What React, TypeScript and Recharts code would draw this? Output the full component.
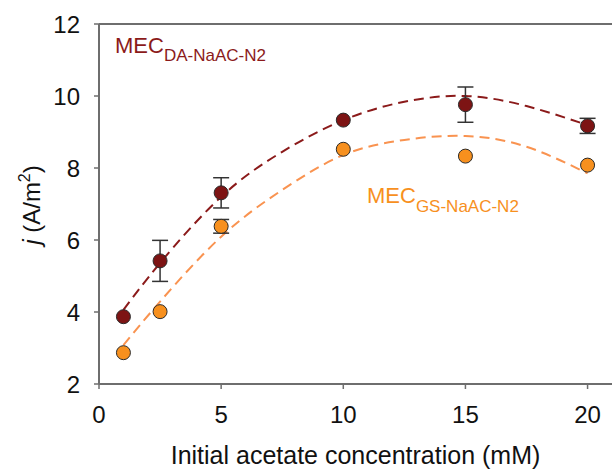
import {
  ComposedChart,
  Customized,
  ErrorBar,
  Line,
  ReferenceLine,
  Scatter,
  XAxis,
  YAxis,
} from "recharts";

// measured points (0 = error bar hidden behind the marker)
const concentrations = [1, 2.5, 5, 10, 15, 20];
const daMeans = [3.87, 5.42, 7.31, 9.33, 9.76, 9.17];
const daErrors = [0, 0.57, 0.42, 0, 0.49, 0.21];
const gsMeans = [2.87, 4.01, 6.38, 8.52, 8.33, 8.08];
const gsErrors = [0, 0, 0.19, 0, 0, 0];

// dashed fit curves
const fitX = [1, 2.5, 5, 7.5, 10, 12.5, 15, 17.5, 20];
const fitDA = [4.06, 5.36, 7.2, 8.45, 9.33, 9.84, 10.0, 9.72, 9.19];
const fitGS = [3.08, 4.29, 6.09, 7.39, 8.36, 8.78, 8.89, 8.59, 7.85];

const xTicks = [0, 5, 10, 15, 20];
const yTicks = [2, 4, 6, 8, 10, 12];

const DARK = "#7d1414";
const DARK_LINE = "#8b1a1a";
const ORANGE = "#f7901e";
const ORANGE_LINE = "#f99350";
const AXIS = "#6e6e6e";
const FONT = "'Liberation Sans', Arial, sans-serif";

const fitRows = fitX.map((x, i) => ({ x, da: fitDA[i], gs: fitGS[i] }));
const daRows = concentrations.map((x, i) => ({ x, y: daMeans[i], err: daErrors[i] }));
const gsRows = concentrations.map((x, i) => ({ x, y: gsMeans[i], err: gsErrors[i] }));

const dot = (fill: string) => (props: any) => (
  <circle cx={props.cx} cy={props.cy} r={7} fill={fill} stroke="#2a2a2a" strokeWidth={1} />
);
const noDot = () => <g />;

function Annotations() {
  return (
    <g fontFamily={FONT}>
      <text x={115} y={53} fill={DARK_LINE} fontSize={22}>
        MEC
        <tspan fontSize={17} dy={8}>DA-NaAC-N2</tspan>
      </text>
      <text x={367} y={203} fill={ORANGE} fontSize={22}>
        MEC
        <tspan fontSize={17} dy={9}>GS-NaAC-N2</tspan>
      </text>
      <text
        x={0}
        y={0}
        transform="translate(40, 205) rotate(-90)"
        textAnchor="middle"
        fill="#111"
        fontSize={24}
      >
        <tspan fontStyle="italic">j</tspan> (A/m
        <tspan fontSize={16} dy={-10}>2</tspan>
        <tspan dy={10}>)</tspan>
      </text>
    </g>
  );
}

export default function App() {
  return (
    <div style={{ position: "absolute", left: 0, top: 0, background: "#fff" }}>
      <ComposedChart
        width={612}
        height={469}
        data={fitRows}
        margin={{ top: 24, right: 0, left: 0, bottom: 0 }}
      >
        <XAxis
          type="number"
          dataKey="x"
          domain={[0, 21]}
          ticks={xTicks}
          allowDataOverflow
          height={85}
          tickSize={5}
          tickMargin={17}
          tick={{ fill: "#111", fontSize: 24, fontFamily: FONT }}
          axisLine={{ stroke: AXIS, strokeWidth: 2 }}
          tickLine={{ stroke: AXIS, strokeWidth: 1.5 }}
          label={{
            value: "Initial acetate concentration (mM)",
            position: "insideBottom",
            offset: 5,
            fill: "#111",
            fontSize: 25,
            fontFamily: FONT,
          }}
        />
        <YAxis
          type="number"
          domain={[2, 12]}
          ticks={yTicks}
          allowDataOverflow
          width={99}
          tickSize={5}
          tickMargin={14}
          tick={{ fill: "#111", fontSize: 24, fontFamily: FONT }}
          axisLine={{ stroke: AXIS, strokeWidth: 2 }}
          tickLine={{ stroke: AXIS, strokeWidth: 1.5 }}
        />
        <ReferenceLine y={12} stroke={AXIS} strokeWidth={2} />
        <Line
          dataKey="da"
          type="natural"
          stroke={DARK_LINE}
          strokeWidth={2}
          strokeDasharray="10 6"
          dot={false}
          activeDot={false}
          isAnimationActive={false}
        />
        <Line
          dataKey="gs"
          type="natural"
          stroke={ORANGE_LINE}
          strokeWidth={2}
          strokeDasharray="10 6"
          dot={false}
          activeDot={false}
          isAnimationActive={false}
        />
        {/* error bars first so the markers sit on top of them */}
        <Scatter data={gsRows} dataKey="y" shape={noDot} isAnimationActive={false}>
          <ErrorBar dataKey="err" direction="y" width={8} stroke="#333" strokeWidth={1.5} />
        </Scatter>
        <Scatter data={daRows} dataKey="y" shape={noDot} isAnimationActive={false}>
          <ErrorBar dataKey="err" direction="y" width={8} stroke="#333" strokeWidth={1.5} />
        </Scatter>
        <Scatter data={gsRows} dataKey="y" shape={dot(ORANGE)} isAnimationActive={false} />
        <Scatter data={daRows} dataKey="y" shape={dot(DARK)} isAnimationActive={false} />
        <Customized component={Annotations} />
      </ComposedChart>
    </div>
  );
}
